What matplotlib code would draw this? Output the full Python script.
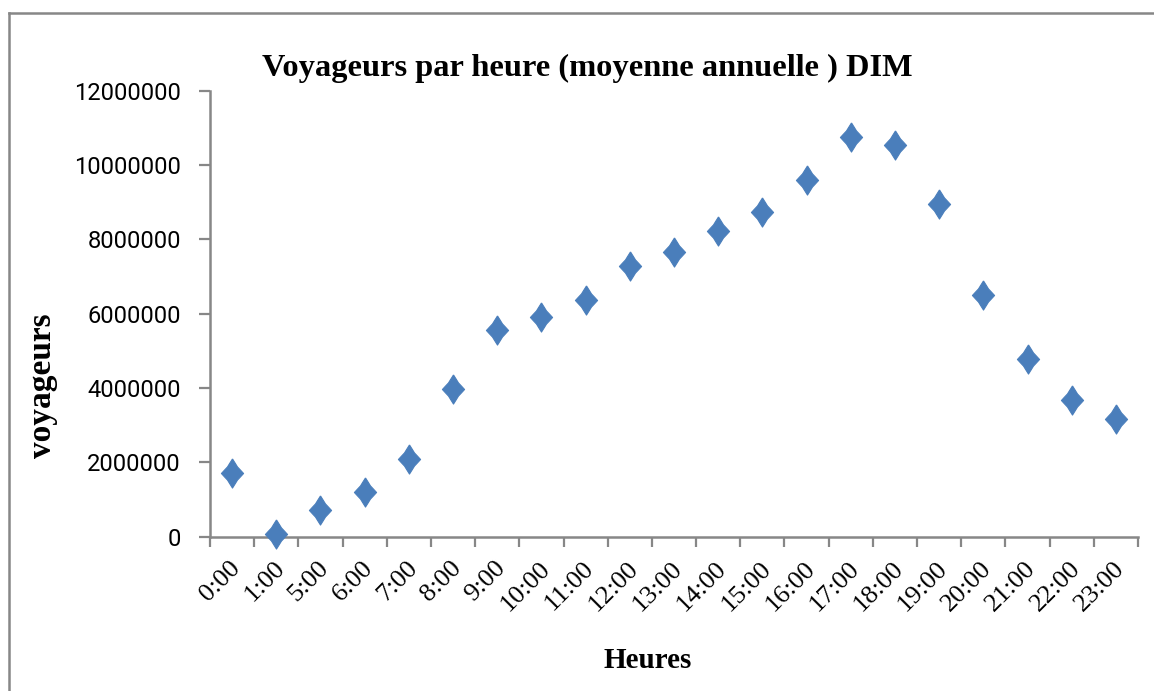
import matplotlib
matplotlib.use("Agg")
import matplotlib.pyplot as plt
from matplotlib.lines import Line2D
from matplotlib import font_manager
import matplotlib.transforms as mtransforms
import numpy as np

hours = ["0:00", "1:00", "5:00", "6:00", "7:00", "8:00", "9:00", "10:00", "11:00",
         "12:00", "13:00", "14:00", "15:00", "16:00", "17:00", "18:00", "19:00",
         "20:00", "21:00", "22:00", "23:00"]
voyageurs = [1720000, 60000, 720000, 1210000, 2090000, 3970000, 5560000, 5920000,
             6370000, 7290000, 7660000, 8230000, 8740000, 9600000, 10760000,
             10550000, 8960000, 6500000, 4770000, 3680000, 3170000]
yticks = [0, 2000000, 4000000, 6000000, 8000000, 10000000, 12000000]

W, H = 1154, 691
fig = plt.figure(figsize=(W / 100, H / 100), dpi=100)
fig.patch.set_facecolor("white")

avail = {f.name for f in font_manager.fontManager.ttflist}
narrow = "Liberation Sans Narrow" if "Liberation Sans Narrow" in avail else "Roboto"
serif = "Liberation Serif"

ax = fig.add_axes([210 / W, (H - 536.7) / H, (1138 - 210) / W, (536.7 - 90.7) / H])
x = np.arange(len(hours))

# slightly concave diamond marker
s = 0.76
edge = []
for t, k in [(0.0, 1.0), (0.25, 0.95), (0.5, 0.90), (0.75, 0.95)]:
    edge.append(((t * s) * k, (1 - t) * k))
quad = edge + [(s, 0)]
verts = []
for sx, sy in [(1, 1), (1, -1), (-1, -1), (-1, 1)]:
    pts = quad if sx * sy > 0 else quad[::-1]
    verts += [(sx * px, sy * py) for px, py in pts]
verts.append(verts[0])
ax.plot(x, voyageurs, linestyle="none", marker=verts, markersize=21,
        markerfacecolor="#4A7EBB", markeredgecolor="#4A7EBB", markeredgewidth=0.8,
        clip_on=False, zorder=5)

ax.set_xlim(-0.5, len(hours) - 0.5)
ax.set_ylim(0, 12000000)
ax.set_yticks(yticks)
ylabs = ax.set_yticklabels([str(v) for v in yticks], family=narrow, fontsize=20)
ax.set_xticks(np.arange(-0.5, len(hours), 1.0))
ax.set_xticklabels([])
ax.set_xticks(x, minor=True)
xlabs = ax.set_xticklabels(hours, minor=True, rotation=45, ha="right", va="center",
                           rotation_mode="anchor", family=serif, fontsize=19)
ax.tick_params(axis="x", which="minor", length=0, pad=19)
ax.tick_params(axis="x", which="major", length=7, width=1.6, color="#878787", direction="out")
ax.tick_params(axis="y", length=8, width=1.6, color="#878787", direction="out", pad=13)
shift = mtransforms.ScaledTranslation(5 / 100, -2 / 100, fig.dpi_scale_trans)
for lab in ax.xaxis.get_minorticklabels():
    lab.set_transform(lab.get_transform() + shift)

for sp in ["top", "right"]:
    ax.spines[sp].set_visible(False)
for sp in ["left", "bottom"]:
    ax.spines[sp].set_color("#878787")
    ax.spines[sp].set_linewidth(1.8)

# title sized to width
t = fig.text(587.5 / W, (H - 68) / H, "Voyageurs par heure (moyenne annuelle ) DIM",
             ha="center", va="center", family=serif, weight="bold", fontsize=24)
fig.canvas.draw()
bb = t.get_window_extent()
t.set_fontsize(24 * 651 / bb.width)
# y tick labels sized so "12000000" is ~107 px wide
wb = ylabs[-1].get_window_extent().width
for lab in ylabs:
    lab.set_fontsize(20 * 107 / wb)

fig.text(648 / W, (H - 660) / H, "Heures", ha="center", va="center",
         family=serif, weight="bold", fontsize=21)
fig.text(43 / W, (H - 386) / H, "voyageurs", ha="center", va="center", rotation=90,
         family=serif, weight="bold", fontsize=24)

# outer chart border (left and top visible)
fig.add_artist(Line2D([9 / W, 9 / W], [0, (H - 13) / H], color="#878787", lw=1.8,
                      transform=fig.transFigure))
fig.add_artist(Line2D([9 / W, 1.0], [(H - 13) / H, (H - 13) / H], color="#878787", lw=1.8,
                      transform=fig.transFigure))

fig.savefig("out.png", dpi=100, facecolor="white")
